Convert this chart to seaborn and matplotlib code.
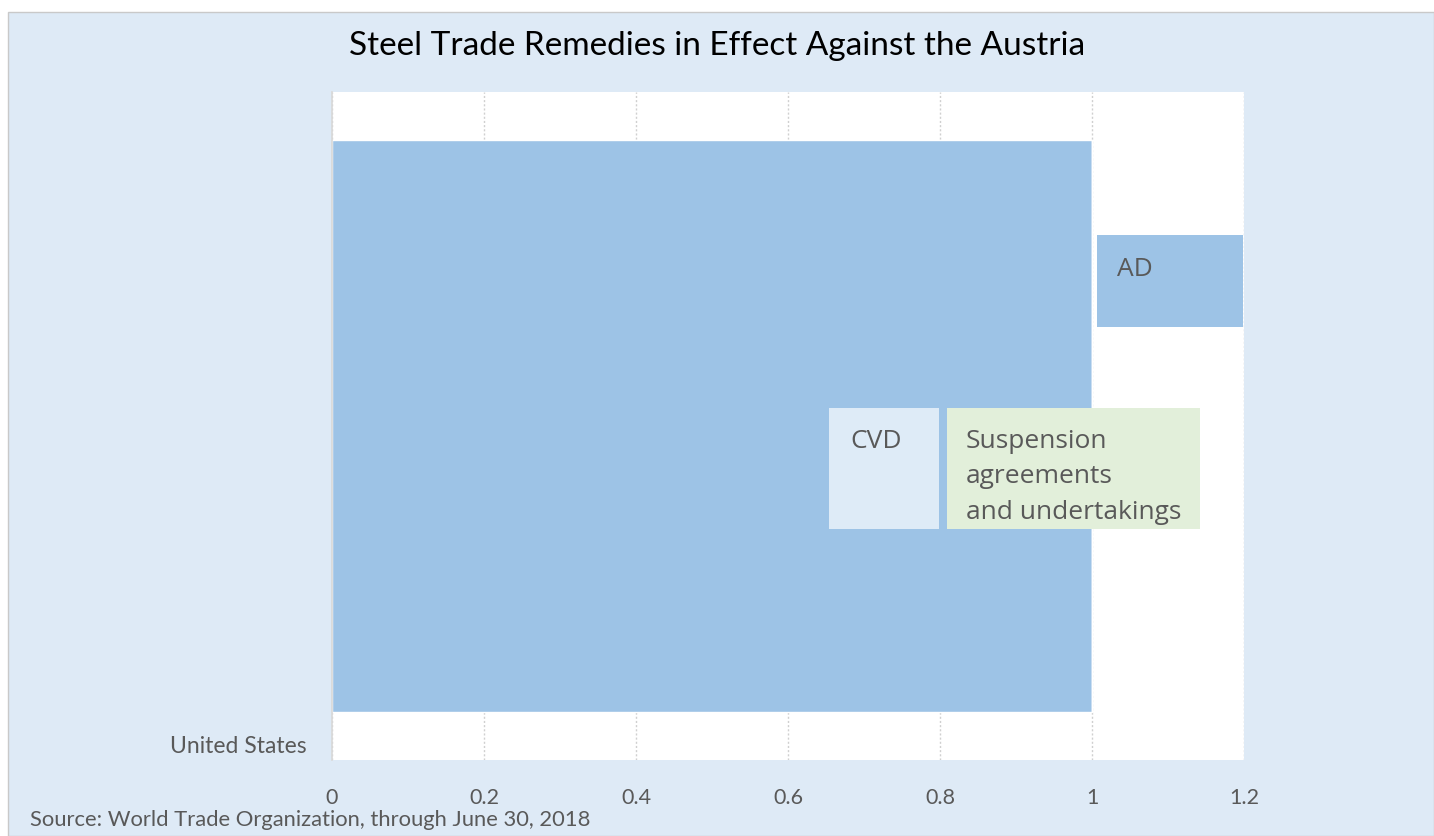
import matplotlib
matplotlib.use('Agg')
import matplotlib.pyplot as plt
from matplotlib.patches import Rectangle
import seaborn as sns
import pandas as pd

countries = ["United States"]
series = ["AD", "CVD", "Suspension agreements and undertakings"]
series_display = ["AD", "CVD", "Suspension\nagreements\nand undertakings"]
ad = [1]
cvd = [0]
susp = [0]
xticks = [0, 0.2, 0.4, 0.6, 0.8, 1, 1.2]

sns.set_theme(style="white")
plt.rcParams['font.family'] = ['Lato', 'DejaVu Sans']

W, H = 1434, 836
bg = "#DEEAF6"
colors = ["#9DC3E6", "#DEEBF7", "#E2EFDA"]
txt = "#595959"

fig = plt.figure(figsize=(W / 100, H / 100), dpi=100, facecolor="white")

def fx(px):
    return px / W

def fy(py):
    return 1 - py / H

# chart area frame
fig.patches.append(Rectangle((fx(8), 0), 1 - fx(8), fy(12), transform=fig.transFigure,
                             facecolor=bg, edgecolor="#C9C9C9", lw=1, zorder=-5))

ax = fig.add_axes([fx(332), fy(760), fx(1244) - fx(332), fy(92) - fy(760)])
ax.set_facecolor("white")

df = pd.DataFrame({"country": countries, "AD": ad, "CVD": cvd, "Susp": susp})
sns.barplot(data=df, x="AD", y="country", color=colors[0], saturation=1,
            width=0.8, ax=ax, orient="h", zorder=2)
left = df["AD"]
for col, c in zip(["CVD", "Susp"], colors[1:]):
    ax.barh(0, df[col], left=left, height=0.8, color=c, zorder=2)
    left = left + df[col]

ax.set_xlim(0, 1.2)
ax.set_ylim(0.467, -0.467)
ax.set_xticks(xticks)
ax.set_xticklabels([f"{t:g}" for t in xticks])
ax.set_yticks([0.446])
ax.set_yticklabels(countries)
ax.tick_params(axis="x", length=0, pad=20, labelsize=15.5, labelcolor=txt)
ax.tick_params(axis="y", length=0, pad=18, labelsize=16.5, labelcolor=txt)
ax.set_xlabel("")
ax.set_ylabel("")
for t in xticks:
    ax.axvline(t, color="#D0D0D0", lw=1, ls=(0, (1.5, 1.5)), zorder=1)
for s in ["top", "right", "bottom"]:
    ax.spines[s].set_visible(False)
ax.spines["left"].set_color("#D9D9D9")

# legend boxes, drawn as in the original layout
boxes = [
    (1097, 235, 1243, 327, 1117, 257),
    (829, 408, 939, 529, 850, 429),
    (947, 408, 1200, 529, 966, 429),
]
for (x0, y0, x1, y1, tx, ty), lab, c in zip(boxes, series_display, colors):
    fig.patches.append(Rectangle((fx(x0), fy(y1)), fx(x1 - x0), (y1 - y0) / H,
                                 transform=fig.transFigure, facecolor=c,
                                 edgecolor="none", zorder=5))
    fig.text(fx(tx), fy(ty), lab, ha="left", va="top", fontsize=19,
             color=txt, family=["Open Sans", "DejaVu Sans"], linespacing=1.55,
             zorder=6)

fig.text(0.5, fy(46), "Steel Trade Remedies in Effect Against the Austria",
         ha="center", va="center", fontsize=24, color="black")
fig.text(fx(30), fy(820), "Source: World Trade Organization, through June 30, 2018",
         ha="left", va="center", fontsize=15.8, color=txt)

fig.savefig("out.png", dpi=100, facecolor=fig.get_facecolor())
